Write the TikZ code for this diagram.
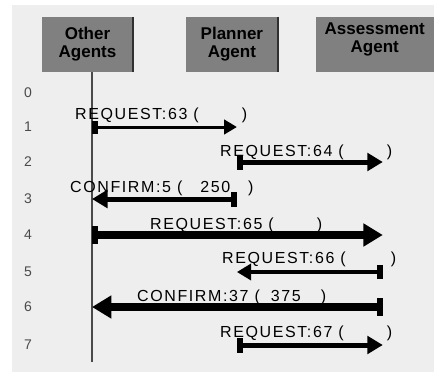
\documentclass[tikz,border=0pt]{standalone}
\usepackage{fontspec}
\setmainfont{Liberation Sans}
\newfontfamily\msgfont[LetterSpace=10]{Liberation Sans}
\usetikzlibrary{arrows.meta,positioning}
\definecolor{panel}{HTML}{EEEEEE}
\definecolor{boxgray}{HTML}{808080}
\definecolor{edgegray}{HTML}{303030}
\definecolor{numgray}{HTML}{4A4A4A}

\begin{document}
\begin{tikzpicture}[x=1pt,y=-1pt,
  box/.style={fill=boxgray,minimum width=91pt,minimum height=55pt,inner sep=0pt,align=center,font=\bfseries\fontsize{17}{18}\selectfont},
  edge/.style={draw=edgegray,line width=2pt},
  life/.style={draw=numgray,line width=1.5pt},
  num/.style={text=numgray,font=\fontsize{14}{14}\selectfont},
  lbl/.style={anchor=base west,inner sep=0pt,font=\msgfont\fontsize{16}{16}\selectfont},
  msg/.style={line width=#1,{Rectangle[length=6pt,width=10pt 1]}-{Triangle[length=9pt 1.3,width=10pt 1.5]}},
  node distance=53pt
]
\useasboundingbox (0,0) rectangle (434,372);
\fill[panel] (12,5) rectangle (434,372);

% agents
\node[box] (other) at (87.5,44.5) {Other\\Agents};
\node[box,right=of other] (planner) {Planner\\Agent};
\node[box,right=38pt of planner,minimum width=118pt,
  label={[align=center,yshift=5pt,font=\bfseries\fontsize{17}{18}\selectfont]center:Assessment\\Agent}] (assess) {};
\draw[edge] (other.north east) -- (other.south east);
\draw[edge] (planner.north east) -- (planner.south east);

% lifelines
\coordinate (lo) at ([xshift=4.5pt]other.south);
\coordinate (lp) at ([xshift=5pt]planner.south);
\coordinate (la) at ([xshift=8pt]assess.south);
\coordinate (lend) at (92,362);
\draw[life] (lo) -- (lend);

% time steps
\foreach \n/\y in {0/93,1/127,2/162,3/199,4/235,5/272,6/307,7/345}
  \node[num] (r\n) at (28,\y) {\n};

% messages
\draw[msg=3pt] (lo |- r1) -- (lp |- r1);
\node[lbl] (m1) at (75,119) {REQUEST:63 (\hspace*{43pt})};
\draw[msg=5pt] (lp |- r2) -- (la |- r2);
\node[lbl] (m2) at (220,156) {REQUEST:64 (\hspace*{43pt})};
\draw[msg=5pt] (lp |- r3) -- (lo |- r3);
\node[lbl] (m3) at (70,192) {CONFIRM:5 (\hspace*{18pt}250\hspace*{18pt})};
\draw[msg=8pt] (lo |- r4) -- (la |- r4);
\node[lbl] (m4) at (150,229) {REQUEST:65 (\hspace*{43pt})};
\draw[msg=4pt] (la |- r5) -- (lp |- r5);
\node[lbl] (m5) at (222,263) {REQUEST:66 (\hspace*{45pt})};
\draw[msg=8pt] (la |- r6) -- (lo |- r6);
\node[lbl] (m6) at (137,301) {CONFIRM:37 (\hspace*{11pt}375\hspace*{20pt})};
\draw[msg=5pt] (lp |- r7) -- (la |- r7);
\node[lbl] (m7) at (220,337) {REQUEST:67 (\hspace*{43pt})};
\end{tikzpicture}
\end{document}
